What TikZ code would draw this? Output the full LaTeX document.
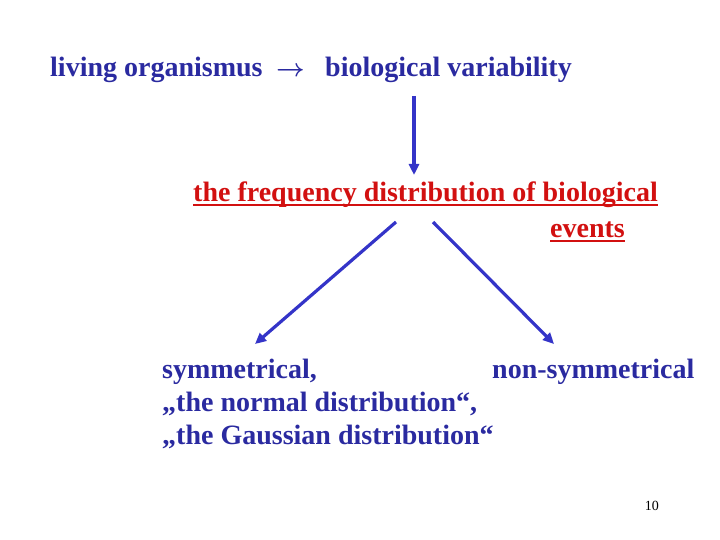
\documentclass[tikz,border=0pt]{standalone}
\usepackage{fontspec}
\setmainfont{Liberation Serif}
\usepackage{tikz}
\usetikzlibrary{arrows.meta}
\definecolor{textblue}{RGB}{42,42,160}
\definecolor{arrowblue}{RGB}{52,52,200}
\definecolor{textred}{RGB}{210,16,16}
\tikzset{
every picture/.style={x=1pt, y=-1pt},
bluetext/.style={text=textblue, inner sep=0, anchor=base west, font=\fontsize{28}{33}\selectfont\bfseries},
redtext/.style={text=textred, inner sep=0, anchor=base west, font=\fontsize{28}{33}\selectfont\bfseries},
pagenum/.style={text=black, inner sep=0, anchor=base east, font=\fontsize{14}{16}\selectfont},
bluearrow/.style={draw=arrowblue, line width=3.2pt, -{Triangle[length=11pt, width=10pt]}},
redline/.style={draw=textred, line width=1.8pt}
}

\begin{document}
\begin{tikzpicture}
\useasboundingbox (0,0) rectangle (720,540);
%Nodes
\node[bluetext] (living) at (50,77) {living organismus};
\node[bluetext, font=\fontsize{28}{33}\selectfont\boldmath] (to) at (276,77) {$\rightarrow$};
\node[bluetext] (bio) at (325,77) {biological variability};
\node[redtext] (freq) at (193,202) {the frequency distribution of biological};
\node[redtext] (events) at (550,237) {events};
\node[bluetext] (sym) at (162,378) {symmetrical,};
\node[bluetext] (nonsym) at (492,378) {non-symmetrical};
\node[bluetext] (normal) at (162,411) {„the normal distribution“,};
\node[bluetext] (gauss) at (162,444) {„the Gaussian distribution“};
\node[pagenum] (num) at (659,510) {10};

%Arrow ends
\coordinate (downtop) at (414,96);
\coordinate (downend) at (414,175);
\coordinate (lefttop) at (396,222);
\coordinate (leftend) at (255,344);
\coordinate (righttop) at (433,222);
\coordinate (rightend) at (554,344);

%Lines
\draw[redline] ([yshift=-3pt]freq.base west) -- ([yshift=-3pt]freq.base east);
\draw[redline] ([yshift=-4pt]events.base west) -- ([yshift=-4pt]events.base east);
\draw[bluearrow] (downtop) -- (downend);
\draw[bluearrow] (lefttop) -- (leftend);
\draw[bluearrow] (righttop) -- (rightend);
\end{tikzpicture}
\end{document}
